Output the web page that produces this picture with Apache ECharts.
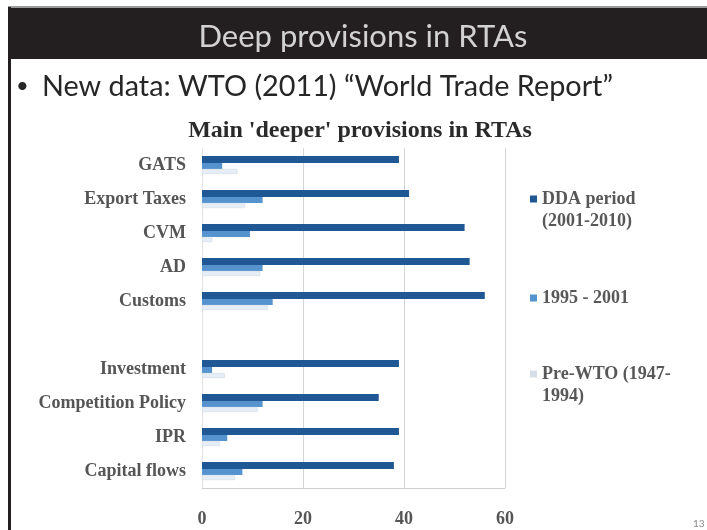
<!DOCTYPE html>
<html>
<head>
<meta charset="utf-8">
<script src="https://cdn.jsdelivr.net/npm/echarts@6/dist/echarts.min.js"></script>
<style>
  html, body { margin: 0; padding: 0; background: #fff; }
  #main { width: 707px; height: 530px; }
</style>
</head>
<body>
<div id="main"></div>
<script>
// provisions, top to bottom (blank row separates the two groups)
var categories = ['GATS', 'Export Taxes', 'CVM', 'AD', 'Customs', ' ', 'Investment', 'Competition Policy', 'IPR', 'Capital flows'];
var ddaPeriod = [39, 41, 52, 53, 56, null, 39, 35, 39, 38];
var wto95 = [4, 12, 9.5, 12, 14, null, 2, 12, 5, 8];
var preWto = [7, 8.5, 2, 11.5, 13, null, 4.5, 11, 3.5, 6.5];
var xTicks = [0, 20, 40, 60];
var seriesNames = ['DDA period\n(2001-2010)', '1995 - 2001', 'Pre-WTO (1947-\n1994)'];

var serif = '"Liberation Serif", "DejaVu Serif", serif';
var sans = 'Lato, "Open Sans", sans-serif';
// square marker sitting on the first line of a two-line legend label
var topSquare = 'path://M0,0h7v7h-7z M6.95,28.95h0.05v0.05h-0.05z';

var chart = echarts.init(document.getElementById('main'));

function legendAt(name, top, icon, h, color) {
    return {
        data: [name], orient: 'vertical', left: 530, top: top, padding: 0,
        itemWidth: 7, itemHeight: h, icon: icon, itemGap: 0,
        itemStyle: { color: color, borderWidth: 0 },
        textStyle: { fontFamily: serif, fontSize: 18, fontWeight: 'bold', color: '#585858', lineHeight: 22 }
    };
}

var option = {
    animation: false,
    backgroundColor: '#fff',
    title: [
        {
            text: 'Deep provisions in RTAs',
            left: 358, top: 16, textAlign: 'center',
            textStyle: { color: '#d2d2d2', fontFamily: sans, fontWeight: 'normal', fontSize: 31 }
        },
        {
            text: '•',
            left: 11, top: 70,
            textStyle: { color: '#262626', fontFamily: sans, fontWeight: 'normal', fontSize: 22 }
        },
        {
            text: 'New data: WTO (2011) \u201cWorld Trade Report\u201d',
            left: 37, top: 67,
            textStyle: { color: '#262626', fontFamily: sans, fontWeight: 'normal', fontSize: 28.8 }
        },
        {
            text: "Main 'deeper' provisions in RTAs",
            left: 355, top: 114, textAlign: 'center',
            textStyle: { color: '#2a2a2a', fontFamily: serif, fontWeight: 'bold', fontSize: 24 }
        },
        {
            text: '13',
            left: 688, top: 514,
            textStyle: { color: '#888', fontFamily: sans, fontWeight: 'normal', fontSize: 10 }
        }
    ],
    graphic: [
        { type: 'rect', shape: { x: 8, y: 7, width: 699, height: 52 }, style: { fill: '#231f20' }, z: -1 },
        { type: 'rect', shape: { x: 8, y: 6, width: 699, height: 2 }, style: { fill: '#9a9a9a' }, z: -1 },
        { type: 'rect', shape: { x: 8, y: 7, width: 3, height: 523 }, style: { fill: '#231f20' }, z: -1 }
    ],
    legend: [
        legendAt(seriesNames[0], 188, topSquare, 29, '#1f5894'),
        legendAt(seriesNames[1], 287, 'rect', 7, '#5593cf'),
        legendAt(seriesNames[2], 363, topSquare, 29, '#d5dde7')
    ],
    grid: { left: 202, right: 202, top: 148, bottom: 42 },
    xAxis: {
        type: 'value', min: 0, max: 60, interval: 20,
        axisLine: { show: true, lineStyle: { color: '#cfcfcf' } },
        axisTick: { show: false },
        splitLine: { lineStyle: { color: '#d4d4d4' } },
        axisLabel: {
            margin: 22, color: '#555', fontFamily: serif, fontWeight: 'bold', fontSize: 18,
            formatter: function (v) { return xTicks.indexOf(v) >= 0 ? String(v) : ''; }
        }
    },
    yAxis: {
        type: 'category', inverse: true, data: categories,
        axisLine: { show: true, lineStyle: { color: '#e2e2e2' } },
        axisTick: { show: false },
        axisLabel: { interval: 0, margin: 16, color: '#555', fontFamily: serif, fontWeight: 'bold', fontSize: 18 }
    },
    series: [
        {
            name: seriesNames[0], type: 'bar', data: ddaPeriod,
            barWidth: 7, barGap: '0%', barCategoryGap: '40%',
            itemStyle: { color: '#1f5894' }
        },
        {
            name: seriesNames[1], type: 'bar', data: wto95,
            barWidth: 6, barGap: '0%',
            itemStyle: { color: '#5593cf' }
        },
        {
            name: seriesNames[2], type: 'bar', data: preWto,
            barWidth: 5, barGap: '0%',
            itemStyle: { color: '#e6edf5', borderColor: '#c9d6e4', borderWidth: 0.5 }
        }
    ]
};

chart.setOption(option);
</script>
</body>
</html>
